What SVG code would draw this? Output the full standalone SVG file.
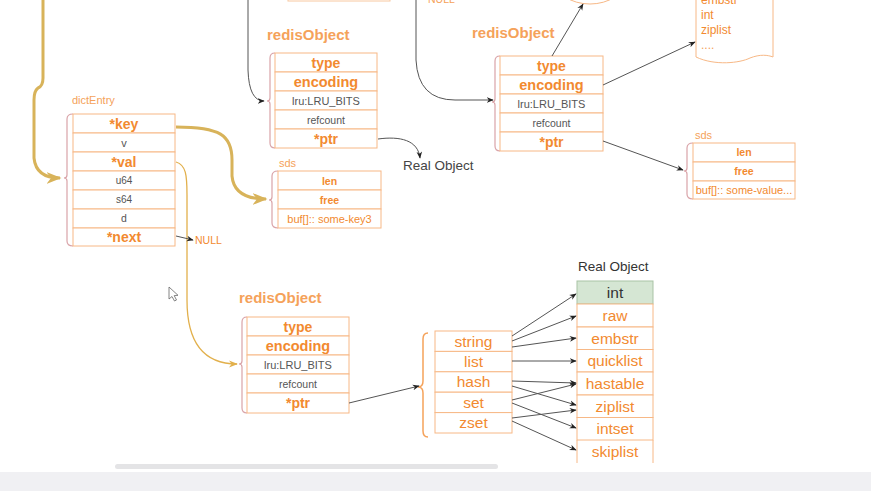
<svg xmlns="http://www.w3.org/2000/svg" width="871" height="491" viewBox="0 0 871 491">
<defs>
<style>
.f{font-family:"Liberation Sans",Arial,sans-serif}
.box{fill:#fff;stroke:#f7b886;stroke-width:1}
.br{fill:none;stroke:#d9a3a8;stroke-width:1.2}
.ob{font-family:"Liberation Sans",Arial,sans-serif;font-weight:bold;fill:#f28a30;text-anchor:middle}
.on{font-family:"Liberation Sans",Arial,sans-serif;fill:#f28a30;text-anchor:middle}
.gs{font-family:"Liberation Sans",Arial,sans-serif;fill:#555;text-anchor:middle}
.lbl{font-family:"Liberation Sans",Arial,sans-serif;font-weight:bold;fill:#f5a25a;font-size:15px}
.sl{font-family:"Liberation Sans",Arial,sans-serif;fill:#f5a25a;font-size:11px}
.conn{fill:none;stroke:#555;stroke-width:1}
.gold{fill:none;stroke:#d8b35a;stroke-width:3}
.gold2{fill:none;stroke:#e2b04c;stroke-width:1.3}
</style>
<marker id="ah" viewBox="0 0 10 10" refX="9" refY="5" markerWidth="7" markerHeight="7" markerUnits="userSpaceOnUse" orient="auto"><path d="M0,1 L10,5 L0,9 L3,5 Z" fill="#222"/></marker>
<marker id="ahg" viewBox="0 0 10 10" refX="9" refY="5" markerWidth="15" markerHeight="15" markerUnits="userSpaceOnUse" orient="auto"><path d="M0,1 L10,5 L0,9 L3,5 Z" fill="#d8b35a"/></marker>
<marker id="ahg2" viewBox="0 0 10 10" refX="9" refY="5" markerWidth="9" markerHeight="9" markerUnits="userSpaceOnUse" orient="auto"><path d="M0,1 L10,5 L0,9 L3,5 Z" fill="#e2b04c"/></marker>
</defs>
<rect width="871" height="491" fill="#fff"/>

<!-- partial items at the top edge -->
<g id="top-partial">
<rect x="288" y="-20" width="102" height="21" fill="none" stroke="#f8c8a0"/>
<text class="f" x="428" y="3" font-size="10.5" fill="#f5a25a">NULL</text>
<ellipse cx="590" cy="-20" rx="35" ry="24" fill="none" stroke="#f7b886"/>
</g>

<g id="doc-encodings">
<path d="M696,-5 L696,57 C715,66 740,63 750,58 C760,54 768,55 773,57 L773,-5" fill="#fff" stroke="#f7b886"/>
<text class="f" x="701" y="4" font-size="12" fill="#f28a30">embstr</text>
<text class="f" x="701" y="19" font-size="12" fill="#f28a30">int</text>
<text class="f" x="701" y="34" font-size="12" fill="#f28a30">ziplist</text>
<text class="f" x="701" y="49" font-size="12" fill="#f5a25a">....</text>
</g>

<!-- dictEntry -->
<g id="dictEntry">
<text class="sl" x="72" y="104">dictEntry</text>
<path class="br" d="M73,114 Q67,114 67,119 L67,175 Q67,178 64,178 Q67,178 67,181 L67,241 Q67,246 73,246"/>
<rect class="box" x="73" y="114" width="102" height="19"/>
<rect class="box" x="73" y="133" width="102" height="19"/>
<rect class="box" x="73" y="152" width="102" height="19"/>
<rect class="box" x="73" y="171" width="102" height="19"/>
<rect class="box" x="73" y="190" width="102" height="19"/>
<rect class="box" x="73" y="209" width="102" height="19"/>
<rect class="box" x="73" y="228" width="102" height="18"/>
<text class="ob" x="124" y="128.5" font-size="14">*key</text>
<text class="gs" x="124" y="146.5" font-size="11">v</text>
<text class="ob" x="124" y="166.5" font-size="14">*val</text>
<text class="gs" x="124" y="184" font-size="10">u64</text>
<text class="gs" x="124" y="203" font-size="10">s64</text>
<text class="gs" x="124" y="222" font-size="10.5">d</text>
<text class="ob" x="124" y="242" font-size="14">*next</text>
</g>

<g id="null-next">
<text class="f" x="195" y="244" font-size="10.5" fill="#f28a30">NULL</text>
</g>

<!-- top middle redisObject -->
<g id="redisObject-1">
<text class="lbl" x="267" y="40">redisObject</text>
<path class="br" d="M275,53 Q270,53 270,58 L270,98 Q270,101 267,101 Q270,101 270,104 L270,143 Q270,148 275,148"/>
<rect class="box" x="275" y="53" width="102" height="19"/>
<rect class="box" x="275" y="72" width="102" height="19"/>
<rect class="box" x="275" y="91" width="102" height="19"/>
<rect class="box" x="275" y="110" width="102" height="19"/>
<rect class="box" x="275" y="129" width="102" height="19"/>
<text class="ob" x="326" y="67.5" font-size="14">type</text>
<text class="ob" x="326" y="86.5" font-size="14.5">encoding</text>
<text class="gs" x="326" y="104.5" font-size="11">lru:LRU_BITS</text>
<text class="gs" x="326" y="123.5" font-size="10.5">refcount</text>
<text class="ob" x="326" y="143.5" font-size="14">*ptr</text>
</g>

<g id="real-object-1">
<text class="f" x="403" y="170" font-size="13.5" fill="#444">Real Object</text>
</g>

<!-- sds middle -->
<g id="sds-1">
<text class="sl" x="279" y="167">sds</text>
<path class="br" d="M278,171 Q272,171 272,176 L272,197 Q272,200 269,200 Q272,200 272,203 L272,223 Q272,228 278,228"/>
<rect class="box" x="278" y="171" width="103" height="19"/>
<rect class="box" x="278" y="190" width="103" height="19"/>
<rect class="box" x="278" y="209" width="103" height="19"/>
<text class="ob" x="329.5" y="184.5" font-size="10.5">len</text>
<text class="ob" x="329.5" y="203.5" font-size="10.5">free</text>
<text class="on" x="329.5" y="222.5" font-size="11" fill="#f5a25a">buf[]:: some-key3</text>
</g>

<!-- top right redisObject -->
<g id="redisObject-2">
<text class="lbl" x="472" y="38">redisObject</text>
<path class="br" d="M500,56 Q495,56 495,61 L495,99 Q495,102 492,102 Q495,102 495,105 L495,146 Q495,151 500,151"/>
<rect class="box" x="500" y="56" width="103" height="19"/>
<rect class="box" x="500" y="75" width="103" height="19"/>
<rect class="box" x="500" y="94" width="103" height="19"/>
<rect class="box" x="500" y="113" width="103" height="19"/>
<rect class="box" x="500" y="132" width="103" height="19"/>
<text class="ob" x="551.5" y="70.5" font-size="14">type</text>
<text class="ob" x="551.5" y="89.5" font-size="14.5">encoding</text>
<text class="gs" x="551.5" y="107.5" font-size="11">lru:LRU_BITS</text>
<text class="gs" x="551.5" y="126.5" font-size="10.5">refcount</text>
<text class="ob" x="551.5" y="146.5" font-size="14">*ptr</text>
</g>

<!-- sds right -->
<g id="sds-2">
<text class="sl" x="695" y="139">sds</text>
<path class="br" d="M693,143 Q687,143 687,148 L687,168 Q687,171 684,171 Q687,171 687,174 L687,194 Q687,199 693,199"/>
<rect class="box" x="693" y="143" width="102" height="19"/>
<rect class="box" x="693" y="162" width="102" height="19"/>
<rect class="box" x="693" y="181" width="102" height="18"/>
<text class="ob" x="744" y="156" font-size="10.5">len</text>
<text class="ob" x="744" y="175" font-size="10.5">free</text>
<text class="on" x="744" y="194" font-size="11" fill="#f5a25a">buf[]:: some-value...</text>
</g>

<!-- bottom redisObject -->
<g id="redisObject-3">
<text class="lbl" x="239" y="303">redisObject</text>
<path class="br" d="M247,317 Q242,317 242,322 L242,361 Q242,364 239,364 Q242,364 242,367 L242,408 Q242,413 247,413"/>
<rect class="box" x="247" y="317" width="102" height="19"/>
<rect class="box" x="247" y="336" width="102" height="19"/>
<rect class="box" x="247" y="355" width="102" height="19"/>
<rect class="box" x="247" y="374" width="102" height="19"/>
<rect class="box" x="247" y="393" width="102" height="20"/>
<text class="ob" x="298" y="331.5" font-size="14">type</text>
<text class="ob" x="298" y="350.5" font-size="14.5">encoding</text>
<text class="gs" x="298" y="368.5" font-size="11">lru:LRU_BITS</text>
<text class="gs" x="298" y="387.5" font-size="10.5">refcount</text>
<text class="ob" x="298" y="408" font-size="14">*ptr</text>
</g>

<!-- types table -->
<g id="types">
<path d="M428,333 Q423,333 423,339 L423,381 Q423,387 418,387 Q423,387 423,393 L423,431 Q423,437 428,437" fill="none" stroke="#f5a25a" stroke-width="1.5"/>
<rect class="box" x="435" y="331" width="77" height="20.4"/>
<rect class="box" x="435" y="351.4" width="77" height="20.4"/>
<rect class="box" x="435" y="371.8" width="77" height="20.4"/>
<rect class="box" x="435" y="392.2" width="77" height="20.4"/>
<rect class="box" x="435" y="412.6" width="77" height="20.4"/>
<text class="on" x="473.5" y="346.5" font-size="15.5">string</text>
<text class="on" x="473.5" y="367" font-size="15.5">list</text>
<text class="on" x="473.5" y="387.3" font-size="15.5">hash</text>
<text class="on" x="473.5" y="407.7" font-size="15.5">set</text>
<text class="on" x="473.5" y="428" font-size="15.5">zset</text>
</g>

<!-- real object table -->
<g id="real-object-2">
<text class="f" x="578" y="271" font-size="13.5" fill="#333">Real Object</text>
<rect x="577" y="281" width="76" height="23" fill="#d5e6d3" stroke="#a9c3a5"/>
<rect class="box" x="577" y="304" width="76" height="23"/>
<rect class="box" x="577" y="327" width="76" height="22.5"/>
<rect class="box" x="577" y="349.5" width="76" height="22.5"/>
<rect class="box" x="577" y="372" width="76" height="23"/>
<rect class="box" x="577" y="395" width="76" height="22.5"/>
<rect class="box" x="577" y="417.5" width="76" height="22.5"/>
<path d="M577,440 L577,463 M653,440 L653,463" stroke="#f7b886" fill="none"/>
<text class="gs" x="615" y="298" font-size="15.5" fill="#333" style="fill:#333">int</text>
<text class="on" x="615" y="321" font-size="15.5">raw</text>
<text class="on" x="615" y="343.5" font-size="15.5">embstr</text>
<text class="on" x="615" y="366" font-size="15.5">quicklist</text>
<text class="on" x="615" y="389" font-size="15.5">hastable</text>
<text class="on" x="615" y="411.5" font-size="15.5">ziplist</text>
<text class="on" x="615" y="434" font-size="15.5">intset</text>
<text class="on" x="615" y="456.5" font-size="15.5">skiplist</text>
</g>

<!-- connectors -->
<g id="connectors">
<path class="gold" d="M43,0 L43,78 Q43,86 38,88 Q34,91 34,100 L34,158 Q36,178 60,178" marker-end="url(#ahg)"/>
<path class="gold" d="M176,127 C220,127 232,135 232,160 L232,176 Q234,199 266,199" marker-end="url(#ahg)"/>
<path class="gold2" d="M176,162 C186,165 187,175 187,195 L187,300 C187,345 205,364 237,364" marker-end="url(#ahg2)"/>
<path class="conn" d="M176,236 L193,240" marker-end="url(#ah)"/>
<path class="conn" d="M248,0 L248,70 Q249,101 264,101" marker-end="url(#ah)"/>
<path class="conn" d="M416,0 L416,60 Q418,100 455,100 L493,100" marker-end="url(#ah)"/>
<path class="conn" d="M378,139 C400,136 418,140 420,158" marker-end="url(#ah)"/>
<path class="conn" d="M552,56 L583,4" marker-end="url(#ah)"/>
<path class="conn" d="M603,85 L695,42" marker-end="url(#ah)"/>
<path class="conn" d="M603,141 L683,170" marker-end="url(#ah)"/>
<path class="conn" d="M349,403 L419,386" marker-end="url(#ah)"/>
<path class="conn" d="M512,336 L576,294" marker-end="url(#ah)"/>
<path class="conn" d="M512,341 L576,316" marker-end="url(#ah)"/>
<path class="conn" d="M512,347 L576,338" marker-end="url(#ah)"/>
<path class="conn" d="M512,361 L576,361" marker-end="url(#ah)"/>
<path class="conn" d="M512,381 L576,383" marker-end="url(#ah)"/>
<path class="conn" d="M512,386 L576,405" marker-end="url(#ah)"/>
<path class="conn" d="M512,400 L576,384" marker-end="url(#ah)"/>
<path class="conn" d="M512,403 L576,428" marker-end="url(#ah)"/>
<path class="conn" d="M512,418 L576,410" marker-end="url(#ah)"/>
<path class="conn" d="M512,421 L576,450" marker-end="url(#ah)"/>
</g>

<!-- mouse cursor -->
<path d="M169,287 L169,299 L172,296.5 L174.5,301 L176.5,300 L174.2,295.6 L178,295.3 Z" fill="#fff" stroke="#666" stroke-width="0.8"/>

<!-- scrollbar and bottom band -->
<rect x="115" y="464" width="383" height="5" rx="2.5" fill="#e4e4e6"/>
<rect x="0" y="472" width="871" height="19" fill="#f0f0f3"/>
</svg>
